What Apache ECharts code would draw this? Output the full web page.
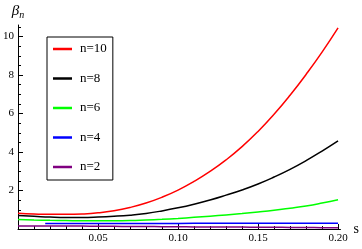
<!DOCTYPE html>
<html><head><meta charset="utf-8">
<script src="https://cdn.jsdelivr.net/npm/echarts@6/dist/echarts.min.js"></script>
<style>html,body{margin:0;padding:0;background:#fff}#c{width:362px;height:249px}</style>
</head><body><div id="c"></div>
<script>
const S = [0,0.01,0.02,0.03,0.04,0.05,0.06,0.07,0.08,0.09,0.10,0.11,0.12,0.13,0.14,0.15,0.16,0.17,0.18,0.19,0.20];
const n10 = [0.82,0.78,0.76,0.76,0.78,0.84,0.95,1.12,1.35,1.65,2.02,2.47,2.99,3.59,4.28,5.07,5.96,6.95,8.03,9.19,10.45];
const n8  = [0.70,0.66,0.62,0.60,0.60,0.62,0.66,0.72,0.81,0.94,1.10,1.29,1.51,1.76,2.03,2.34,2.70,3.10,3.55,4.05,4.58];
const n6  = [0.50,0.47,0.45,0.44,0.43,0.43,0.43,0.44,0.47,0.505,0.55,0.605,0.665,0.73,0.80,0.88,0.97,1.08,1.20,1.35,1.52];
const n2  = [0.16,0.16,0.16,0.15,0.15,0.14,0.14,0.13,0.13,0.12,0.12,0.11,0.11,0.10,0.10,0.09,0.09,0.08,0.08,0.07,0.07];
const S4  = [0.017,0.03,0.05,0.08,0.10,0.12,0.15,0.18,0.20];
const n4  = [0.28,0.28,0.29,0.29,0.29,0.30,0.30,0.30,0.30];
const names = ['n=10','n=8','n=6','n=4','n=2'];
const colors = ['#ff0000','#000000','#00ff00','#0000ff','#800080'];
const xTicks = [0.05,0.10,0.15,0.20];
const yTicks = [2,4,6,8,10];

const F = '"Liberation Serif","Times New Roman",serif';
const xMinor = [];
for (let k = 1; k < 20; k++) if (k % 5) xMinor.push(k/100);
const yMinor = [];
for (let k = 1; k <= 21; k++) if (k % 4) yMinor.push(k/2);

const pairs = (xs, ys) => xs.map((x,i)=>[x, ys[i]]);
const seriesData = [pairs(S,n10), pairs(S,n8), pairs(S,n6), pairs(S4,n4), pairs(S,n2)];

const chart = echarts.init(document.getElementById('c'), null, {renderer:'canvas'});
const XMAX = 0.2015, YMAX = 10.6;
chart.setOption({
  animation:false,
  backgroundColor:'#fff',
  grid:{left:16,right:20,top:25,bottom:20},
  legend:{
    data:names, orient:'vertical', left:47, top:37,
    padding:[5,6,6,6], itemGap:15.5, itemWidth:19, itemHeight:2.5, icon:'rect',
    borderColor:'#000', borderWidth:1,
    textStyle:{fontFamily:F,fontSize:13,color:'#000',lineHeight:14,padding:[0,0,0,3]}
  },
  xAxis:[{
    type:'value',min:0,max:XMAX,
    axisLine:{onZero:false,lineStyle:{color:'#000',width:1}},
    axisTick:{inside:true,length:5,customValues:[0].concat(xTicks),lineStyle:{color:'#000'}},
    axisLabel:{customValues:xTicks,formatter:v=>v.toFixed(2),fontFamily:F,fontSize:11,color:'#000',margin:4},
    splitLine:{show:false},
    name:'s',nameLocation:'end',nameGap:7,
    nameTextStyle:{fontFamily:F,fontSize:14,color:'#000'}
  },{
    type:'value',min:0,max:XMAX,position:'bottom',
    axisLine:{show:false},
    axisTick:{inside:true,length:3,customValues:xMinor,lineStyle:{color:'#000'}},
    axisLabel:{show:false},splitLine:{show:false}
  }],
  yAxis:[{
    type:'value',min:0,max:YMAX,
    axisLine:{onZero:false,lineStyle:{color:'#000',width:1}},
    axisTick:{inside:true,length:5,customValues:yTicks,lineStyle:{color:'#000'}},
    axisLabel:{customValues:yTicks,fontFamily:F,fontSize:11,color:'#000',margin:4},
    splitLine:{show:false},
    name:'{b|β}{n|n}',nameLocation:'end',nameGap:5,
    nameTextStyle:{rich:{
      b:{fontFamily:F,fontStyle:'italic',fontSize:15,color:'#000'},
      n:{fontFamily:F,fontStyle:'italic',fontSize:10,color:'#000',padding:[7,0,0,0]}
    }}
  },{
    type:'value',min:0,max:YMAX,position:'left',
    axisLine:{show:false},
    axisTick:{inside:true,length:3,customValues:yMinor,lineStyle:{color:'#000'}},
    axisLabel:{show:false},splitLine:{show:false}
  }],
  series: names.map((nm,i)=>({
    name:nm,type:'line',xAxisIndex:0,yAxisIndex:0,
    data:seriesData[i],showSymbol:false,smooth:true,
    color:colors[i],lineStyle:{color:colors[i],width:1.5},
    z: 10 - i
  }))
});
</script></body></html>
